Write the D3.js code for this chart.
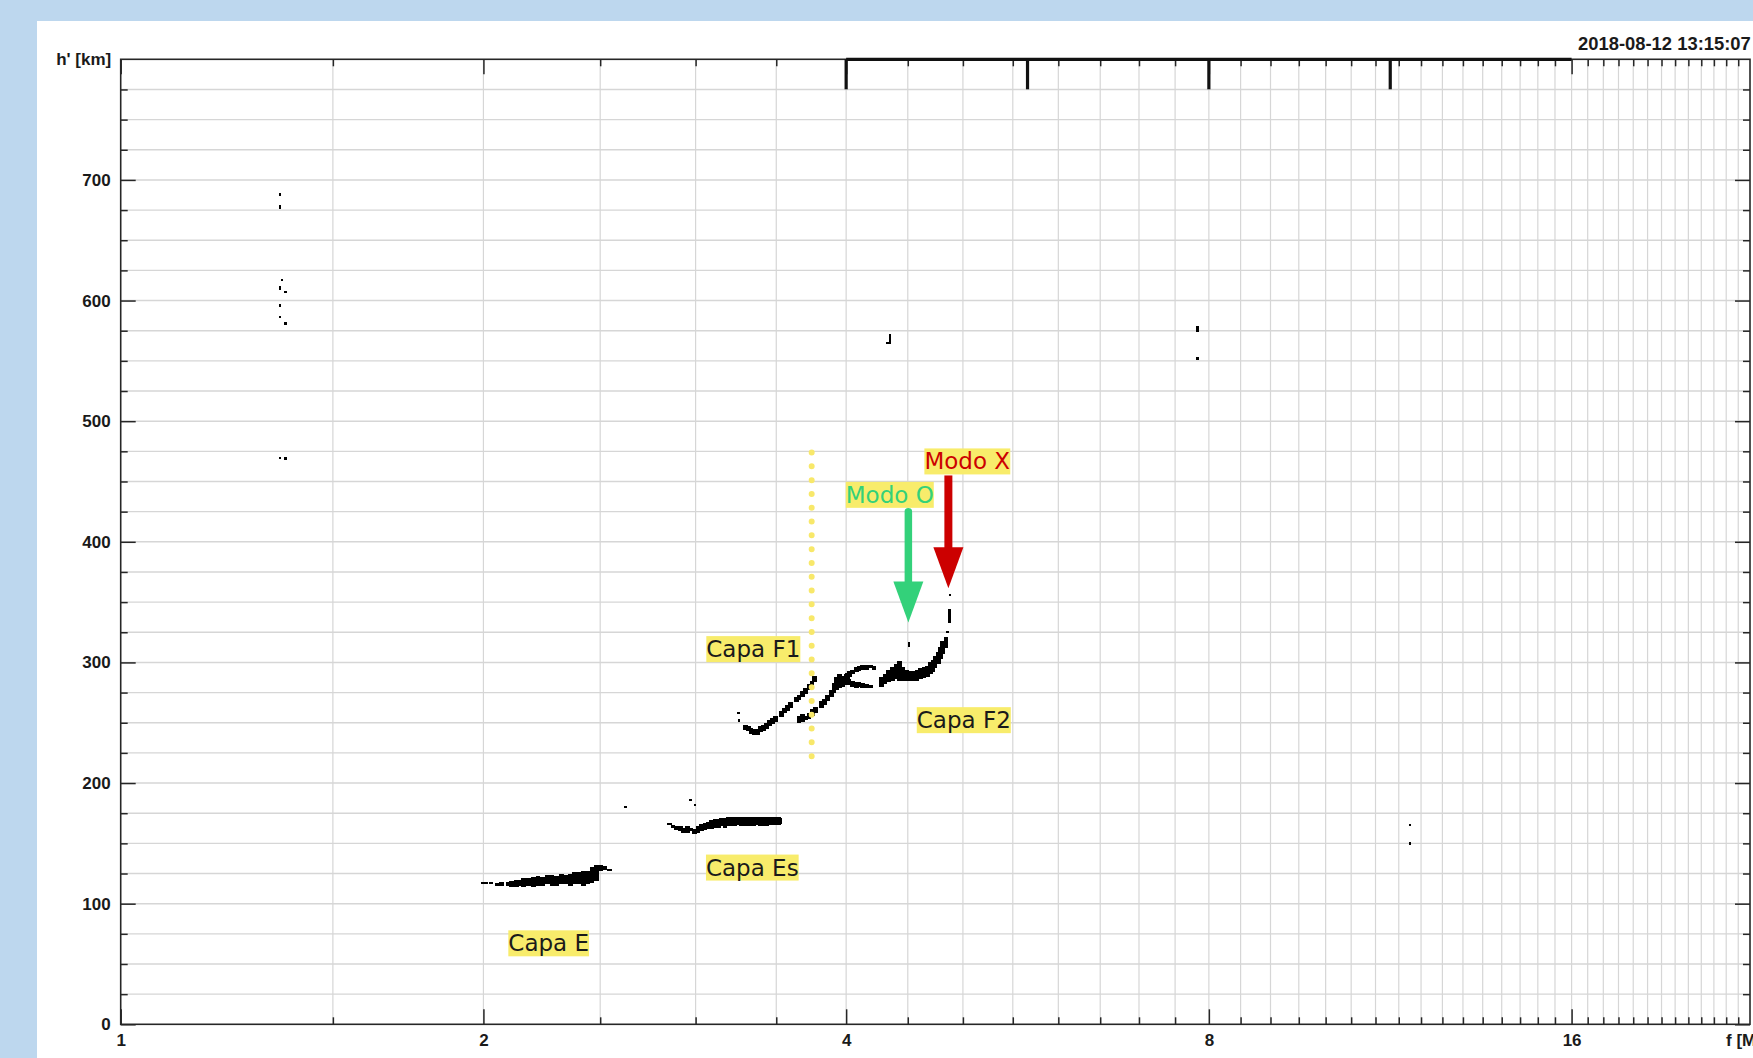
<!DOCTYPE html>
<html>
<head>
<meta charset="utf-8">
<script src="https://cdn.jsdelivr.net/npm/d3@7"></script>
<style>
  html, body { margin: 0; padding: 0; background: #bdd7ee; overflow: hidden; }
  svg { display: block; }
</style>
</head>
<body>
<svg id="chart" width="1753" height="1058"></svg>
<script>
// Ionogram echo traces: [frequency MHz, lower virtual height km, upper virtual height km]
const echoE = [
  [1.99,117,118],[2.00,116,118],[2.02,117,118],[2.045,115,117],[2.06,115,118],
  [2.09,115,118],[2.10,114,119],[2.12,114,120],[2.135,115,120],[2.15,114,121],
  [2.17,115,121],[2.19,114,122],[2.21,115,123],[2.23,115,122],[2.25,116,124],
  [2.27,115,124],[2.29,115,123],[2.31,116,125],[2.33,116,124],[2.35,115,125],
  [2.37,116,126],[2.39,116,126],[2.41,115,127],[2.43,116,127],[2.45,117,130],
  [2.47,119,132],[2.49,127,132],[2.51,128,131],[2.535,128,129]
];
const echoEs = [
  [2.84,165,167],[2.86,163,165],[2.88,161,164],[2.90,160,164],[2.92,159,163],
  [2.94,159,164],[2.96,160,163],[2.98,158,162],[3.00,159,164],[3.02,160,166],
  [3.04,161,167],[3.06,162,168],[3.08,162,169],[3.10,163,170],[3.12,163,170],
  [3.14,164,171],[3.16,163,171],[3.18,164,172],[3.20,164,172],[3.22,164,172],
  [3.24,165,172],[3.26,164,172],[3.28,164,172],[3.30,164,172],[3.32,164,172],
  [3.34,164,172],[3.36,165,172],[3.38,164,172],[3.40,164,172],[3.42,164,172],
  [3.44,165,172],[3.46,165,172],[3.48,165,172],[3.50,165,172],[3.51,166,171]
];
const echoF1 = [
  [3.286,244,248],[3.305,243,247],[3.32,241,246],[3.34,240,245],[3.36,240,245],
  [3.38,242,247],[3.40,243,248],[3.42,245,250],[3.44,247,252],[3.46,249,254],
  [3.48,251,256],[3.52,255,260],[3.54,258,262],[3.56,260,265],
  [3.58,262,267],[3.62,267,271],[3.64,269,273],[3.665,271,276],
  [3.685,274,279],[3.71,277,282],[3.73,280,285],[3.75,284,289]
];
const echoF2 = [
  [3.64,250,256],[3.665,251,257],[3.685,252,256],[3.71,253,258],[3.735,256,261],
  [3.755,258,263],[3.80,262,268],[3.82,265,270],[3.845,268,273],
  [3.87,271,277],[3.89,275,283],[3.91,277,288],[3.93,279,290],[3.955,280,289],
  [3.98,281,290],
  [3.99,286,291],[4.01,288,293],[4.03,290,294],[4.06,292,296],[4.08,293,297],
  [4.11,294,298],[4.14,294,298],[4.17,295,298],[4.20,294,297],
  [4.00,281,286],[4.03,280,285],[4.06,279,284],[4.08,280,284],[4.11,279,283],
  [4.14,279,282],[4.17,279,281],
  [4.26,280,288],[4.29,282,290],[4.32,284,294],[4.35,285,296],[4.38,286,299],
  [4.41,285,301],[4.44,285,296],[4.47,285,294],[4.50,285,293],[4.53,285,293],
  [4.56,285,294],[4.59,286,295],[4.62,287,296],[4.65,288,297],[4.68,290,300],
  [4.70,292,302],[4.72,295,305],[4.75,299,309],[4.77,303,313],[4.79,307,318],
  [4.82,312,321]
];
// isolated single echoes
const echoScatter = [
  [1.352,687,689],[1.352,676,679],[1.358,617,618],[1.352,609,612],[1.367,606,608],
  [1.352,595,597],[1.352,586,587],[1.367,580,582],[1.352,469,470],[1.367,468,470],
  [2.616,180,181],[2.965,185,187],[2.99,181,183],
  [3.247,257,259],[3.252,251,253],
  [4.32,564,566],[4.34,564,572],
  [7.81,574,579],[7.81,551,553],
  [11.72,164,166],[11.72,149,151],
  [4.50,313,317],[4.84,324,326],[4.86,333,344],[4.865,355,357]
];

const xMajorTicks = [1, 2, 4, 8, 16];
const xMinorTicks = d3.range(3, 45).map(k => k / 2).filter(f => !xMajorTicks.includes(f));
const yMajorTicks = [0, 100, 200, 300, 400, 500, 600, 700];
const yMinorTicks = d3.range(25, 800, 25).filter(h => h % 100 !== 0);
const sweepMarks = [4, 5.657, 8, 11.314];   // sounding program markers
const sweepBand = [4, 16];
const timestamp = "2018-08-12 13:15:07";
const foF1 = 3.745;                          // F1 critical frequency marker
const modeArrows = [
  { label: "Modo O", f: 4.505, tip: 333, tail: 425, color: "#33d17a", w: 7.5, cap: "round" },
  { label: "Modo X", f: 4.863, tip: 361.5, tail: 455, color: "#cc0000", w: 8, cap: "butt" }
];
// text labels, anchored at [frequency, height] of their left baseline
const layerLabels = [
  { text: "Capa E",  f: 2.0975, h: 60.5,  color: "#1a1a1a" },
  { text: "Capa Es", f: 3.060,  h: 123.3, color: "#1a1a1a" },
  { text: "Capa F1", f: 3.062,  h: 304.4, color: "#1a1a1a" },
  { text: "Capa F2", f: 4.578,  h: 245.5, color: "#1a1a1a" },
  { text: "Modo O",  f: 3.997,  h: 432.3, color: "#33d17a" },
  { text: "Modo X",  f: 4.645,  h: 460.0, color: "#cc0000" }
];

(function draw() {
  const svg = d3.select("#chart");
  const W = 1753, H = 1058;

  // white figure panel
  svg.append("rect").attr("x", 37).attr("y", 21).attr("width", W - 37).attr("height", H - 21).attr("fill", "#ffffff");

  const plotL = 120.7, plotR = 1750, plotT = 59.3, plotB = 1024.3;
  const x = d3.scaleLog().base(2).domain([1, 22.5]).range([plotL, plotR]);
  const y = d3.scaleLinear().domain([0, 800]).range([plotB, plotT]);

  const axisColor = "#262626";
  const gridColor = "#d6d6d6";

  // grid
  const grid = svg.append("g");
  grid.selectAll("line.gx").data(xMinorTicks.concat(xMajorTicks.slice(1))).join("line")
    .attr("x1", d => x(d)).attr("x2", d => x(d)).attr("y1", plotT).attr("y2", plotB)
    .attr("stroke", gridColor).attr("stroke-width", 1.2);
  grid.selectAll("line.gy").data(yMinorTicks.concat(yMajorTicks.slice(1))).join("line")
    .attr("x1", plotL).attr("x2", plotR).attr("y1", d => y(d)).attr("y2", d => y(d))
    .attr("stroke", gridColor).attr("stroke-width", 1.4);

  // echoes
  const colW = f => x(f * 1.009) - x(f);
  const ptW = f => x(f * 1.005) - x(f);
  const echoes = svg.append("g").attr("shape-rendering", "crispEdges");
  echoes.selectAll("rect.col").data(echoE.concat(echoEs, echoF1, echoF2)).join("rect")
    .attr("x", d => x(d[0])).attr("y", d => y(d[2]))
    .attr("width", d => colW(d[0]))
    .attr("height", d => Math.max(2, y(d[1]) - y(d[2])))
    .attr("fill", "#000");
  echoes.selectAll("rect.pt").data(echoScatter).join("rect")
    .attr("x", d => x(d[0])).attr("y", d => y(d[2]))
    .attr("width", d => ptW(d[0]))
    .attr("height", d => Math.max(2, y(d[1]) - y(d[2])))
    .attr("fill", "#000");

  // axes
  const boldFont = "'Liberation Sans', Arial, Helvetica, sans-serif";
  function styleAxis(g) {
    g.select(".domain").remove();
    g.attr("color", axisColor);
    g.selectAll(".tick line").attr("stroke-width", 1.5);
    g.selectAll("text").attr("font-family", boldFont)
      .attr("font-size", 17).attr("font-weight", "bold").attr("fill", "#1a1a1a");
  }
  svg.append("g").attr("transform", `translate(0,${plotB})`)
    .call(d3.axisBottom(x).tickValues(xMinorTicks).tickFormat("").tickSizeInner(-7).tickSizeOuter(0)).call(styleAxis);
  svg.append("g").attr("transform", `translate(0,${plotB})`)
    .call(d3.axisBottom(x).tickValues(xMajorTicks).tickFormat(d3.format("d")).tickSizeInner(-15).tickSizeOuter(0).tickPadding(10)).call(styleAxis);
  svg.append("g").attr("transform", `translate(0,${plotT})`)
    .call(d3.axisTop(x).tickValues(xMinorTicks).tickFormat("").tickSizeInner(-7).tickSizeOuter(0)).call(styleAxis);
  svg.append("g").attr("transform", `translate(0,${plotT})`)
    .call(d3.axisTop(x).tickValues(xMajorTicks).tickFormat("").tickSizeInner(-15).tickSizeOuter(0)).call(styleAxis);
  svg.append("g").attr("transform", `translate(${plotL},0)`)
    .call(d3.axisLeft(y).tickValues(yMinorTicks).tickFormat("").tickSizeInner(-7).tickSizeOuter(0)).call(styleAxis);
  svg.append("g").attr("transform", `translate(${plotL},0)`)
    .call(d3.axisLeft(y).tickValues(yMajorTicks).tickFormat(d3.format("d")).tickSizeInner(-15).tickSizeOuter(0).tickPadding(10)).call(styleAxis);
  svg.append("g").attr("transform", `translate(${plotR},0)`)
    .call(d3.axisRight(y).tickValues(yMinorTicks).tickFormat("").tickSizeInner(-7).tickSizeOuter(0)).call(styleAxis);
  svg.append("g").attr("transform", `translate(${plotR},0)`)
    .call(d3.axisRight(y).tickValues(yMajorTicks).tickFormat("").tickSizeInner(-15).tickSizeOuter(0)).call(styleAxis);

  // frame
  svg.append("rect").attr("x", plotL).attr("y", plotT).attr("width", plotR - plotL).attr("height", plotB - plotT)
    .attr("fill", "none").attr("stroke", axisColor).attr("stroke-width", 1.6);

  // sweep band along the top edge and its markers
  svg.append("line").attr("x1", x(sweepBand[0])).attr("x2", x(sweepBand[1]))
    .attr("y1", plotT).attr("y2", plotT).attr("stroke", "#111").attr("stroke-width", 3.2);
  svg.selectAll("line.mark").data(sweepMarks).join("line")
    .attr("x1", d => x(d)).attr("x2", d => x(d)).attr("y1", plotT).attr("y2", plotT + 30)
    .attr("stroke", "#111").attr("stroke-width", 3.2);

  // axis titles and time stamp
  svg.append("text").attr("x", plotL - 9.5).attr("y", y(800)).attr("dy", "0.32em")
    .attr("text-anchor", "end").attr("font-family", boldFont).attr("font-size", 17).attr("font-weight", "bold")
    .attr("fill", "#1a1a1a").text("h' [km]");
  svg.append("text").attr("x", 1726).attr("y", plotB + 10).attr("dy", "0.71em")
    .attr("font-family", boldFont).attr("font-size", 17).attr("font-weight", "bold")
    .attr("fill", "#1a1a1a").text("f [MHz]");
  svg.append("text").attr("x", 1578).attr("y", 44).attr("dy", "0.35em")
    .attr("font-family", boldFont).attr("font-size", 18.4).attr("font-weight", "bold")
    .attr("fill", "#1a1a1a").text(timestamp);

  // F1 critical frequency marker
  svg.append("line").attr("x1", x(foF1)).attr("x2", x(foF1)).attr("y1", y(474)).attr("y2", y(211))
    .attr("stroke", "#f8e86a").attr("stroke-width", 6).attr("stroke-linecap", "round")
    .attr("stroke-dasharray", "0,13.8");

  // mode arrows
  const arrows = svg.append("g");
  modeArrows.forEach(a => {
    const ax = x(a.f), tipY = y(a.tip), baseY = tipY - 41;
    arrows.append("line").attr("x1", ax).attr("x2", ax).attr("y1", y(a.tail)).attr("y2", baseY + 2)
      .attr("stroke", a.color).attr("stroke-width", a.w).attr("stroke-linecap", a.cap);
    arrows.append("path").attr("d", `M${ax - 15},${baseY}L${ax + 15},${baseY}L${ax},${tipY}Z`).attr("fill", a.color);
  });

  // layer / mode labels on yellow highlight
  const labels = svg.append("g");
  layerLabels.forEach(l => {
    const g = labels.append("g");
    const r = g.append("rect").attr("fill", "#f8ec6b");
    const t = g.append("text").attr("x", x(l.f)).attr("y", y(l.h))
      .attr("font-family", "'DejaVu Sans', sans-serif").attr("font-size", 23)
      .attr("fill", l.color).text(l.text);
    const b = t.node().getBBox();
    r.attr("x", b.x).attr("y", b.y).attr("width", b.width).attr("height", b.height);
  });
})();
</script>
</body>
</html>
